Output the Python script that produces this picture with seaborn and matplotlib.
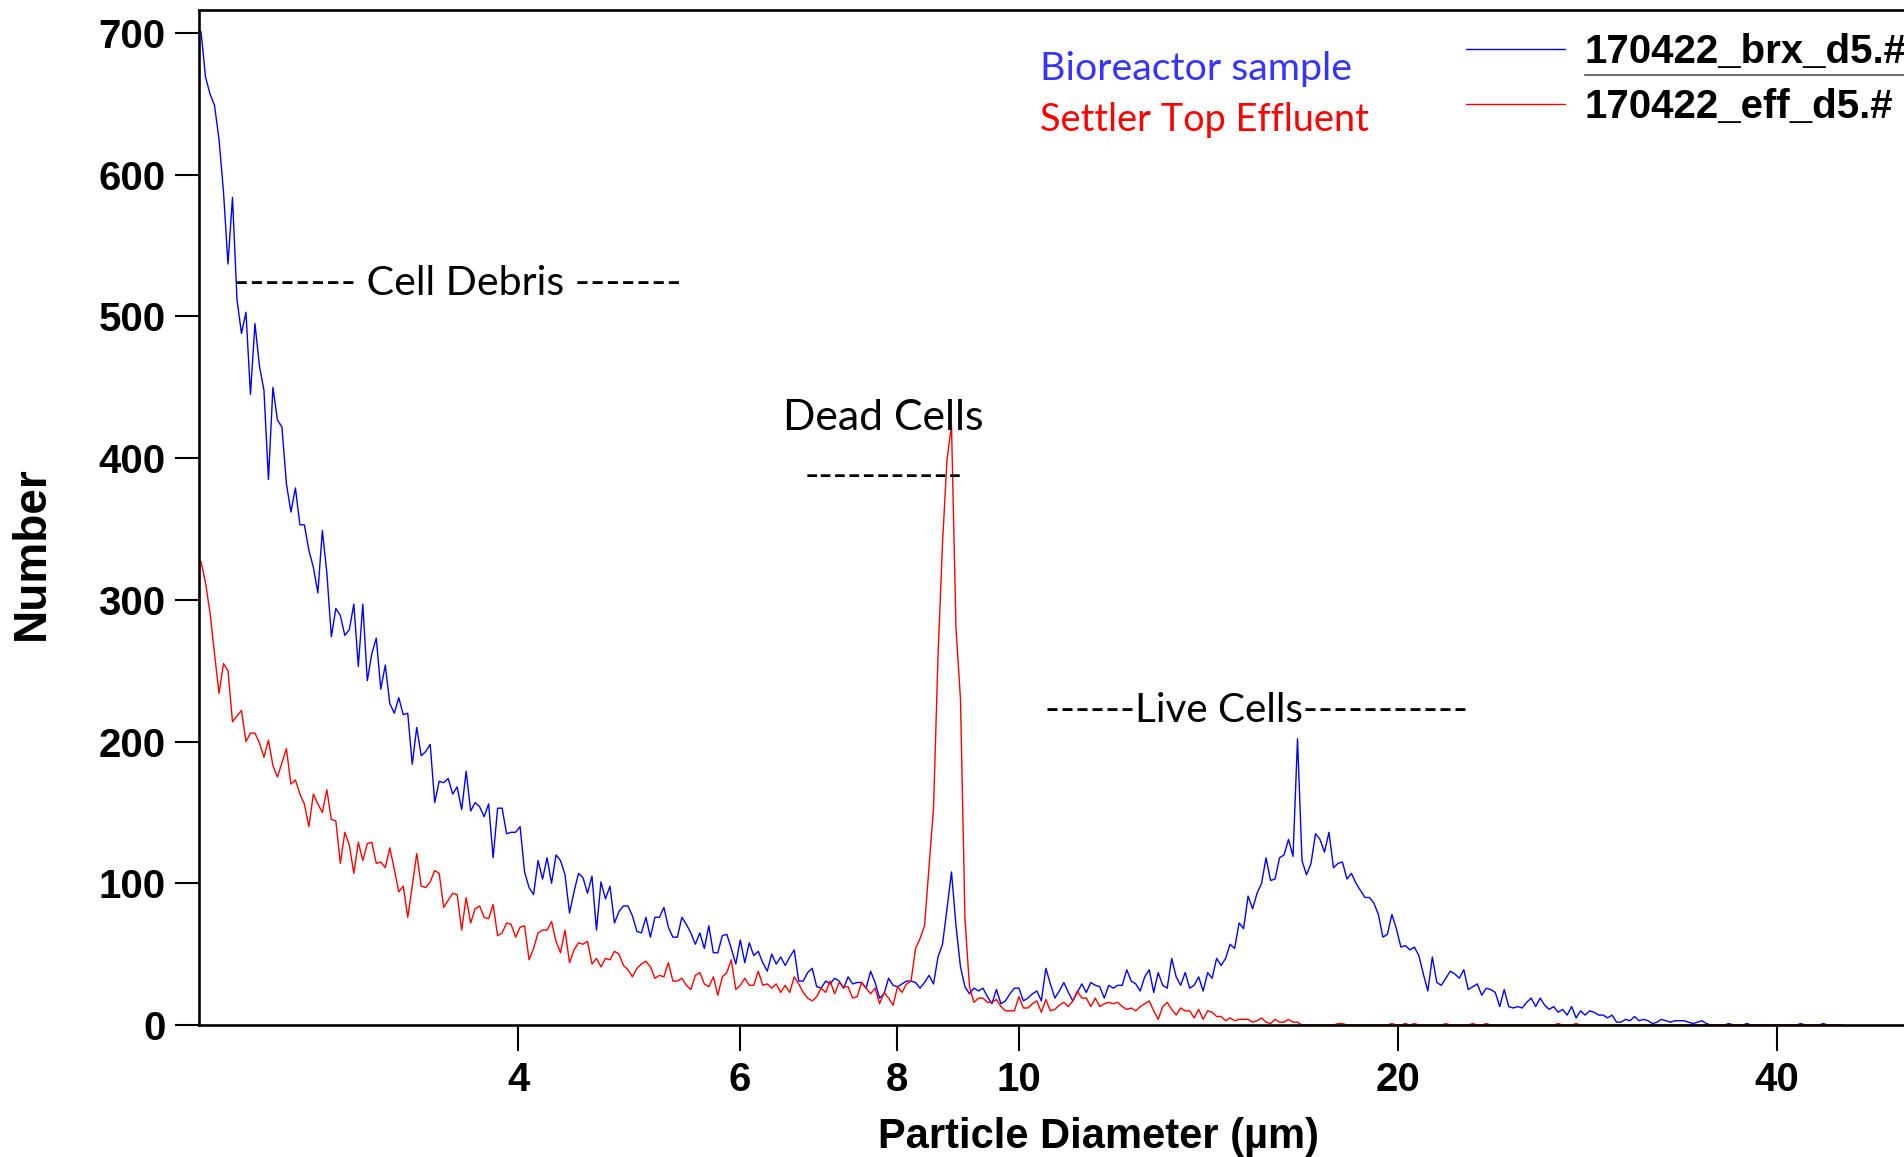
import numpy as np
import pandas as pd
import matplotlib
matplotlib.use("Agg")
import matplotlib.pyplot as plt
import seaborn as sns
from matplotlib.lines import Line2D

# ---------------- data ----------------
first_diameter_um = 2.238      # centre of the first size bin
bins_per_decade = 280          # instrument log-spaced bins

bioreactor_counts = [
    701, 669, 657, 649, 625, 588, 537, 584, 512, 488,
    503, 445, 495, 465, 448, 385, 450, 427, 422, 382,
    362, 379, 353, 353, 335, 323, 305, 349, 319, 274,
    294, 289, 275, 279, 297, 253, 297, 243, 262, 273,
    237, 254, 227, 220, 231, 219, 220, 184, 210, 190,
    193, 198, 157, 172, 171, 174, 163, 168, 152, 179,
    151, 157, 154, 147, 156, 118, 153, 153, 135, 136,
    136, 140, 108, 97, 92, 116, 103, 118, 100, 120,
    116, 106, 79, 94, 107, 104, 93, 105, 67, 101,
    89, 98, 72, 80, 84, 84, 77, 66, 65, 76,
    62, 76, 76, 83, 69, 62, 62, 76, 71, 65,
    57, 65, 54, 70, 51, 51, 63, 64, 54, 43,
    60, 44, 58, 49, 52, 44, 38, 50, 43, 48,
    42, 48, 53, 31, 31, 37, 40, 27, 26, 31,
    29, 33, 31, 26, 34, 29, 30, 30, 26, 38,
    30, 19, 22, 33, 28, 27, 29, 31, 31, 30,
    26, 30, 35, 29, 48, 57, 82, 108, 70, 41,
    27, 22, 26, 24, 26, 20, 15, 25, 15, 17,
    22, 26, 26, 17, 19, 22, 24, 17, 40, 29,
    19, 24, 30, 23, 17, 23, 29, 23, 30, 28,
    27, 19, 28, 26, 28, 28, 39, 31, 29, 24,
    34, 39, 23, 37, 28, 26, 47, 34, 28, 37,
    26, 28, 34, 24, 37, 33, 47, 42, 47, 57,
    54, 72, 68, 91, 82, 93, 100, 118, 102, 103,
    118, 120, 131, 119, 202, 116, 106, 114, 135, 131,
    122, 136, 111, 114, 115, 103, 107, 100, 95, 90,
    90, 86, 78, 62, 64, 78, 68, 55, 56, 53,
    55, 49, 36, 24, 48, 30, 28, 33, 38, 36,
    33, 39, 25, 27, 29, 21, 26, 25, 23, 13,
    25, 13, 12, 13, 12, 16, 19, 13, 19, 14,
    11, 13, 9, 11, 7, 13, 5, 10, 7, 10,
    9, 7, 7, 5, 7, 2, 2, 4, 3, 6,
    3, 4, 3, 1, 2, 4, 3, 2, 3, 3,
    3, 2, 1, 2, 3, 1, 0, 0, 0, 0,
    1, 0, 0, 0, 1, 0, 0, 0, 0, 0,
    0, 0, 0, 0, 0, 0, 1, 0, 0, 0,
    0, 1, 0, 0, 0, 0,
]

effluent_counts = [
    327, 312, 291, 262, 234, 255, 250, 214, 218, 222,
    200, 206, 206, 199, 189, 201, 183, 175, 185, 195,
    170, 173, 163, 156, 140, 163, 156, 150, 166, 145,
    144, 114, 136, 127, 107, 129, 116, 128, 129, 114,
    115, 111, 125, 110, 94, 98, 76, 98, 121, 98,
    97, 101, 109, 107, 83, 88, 93, 92, 67, 90,
    72, 82, 84, 76, 75, 85, 63, 65, 72, 71,
    62, 69, 70, 46, 54, 65, 67, 67, 73, 59,
    51, 67, 44, 53, 58, 57, 59, 43, 47, 41,
    47, 46, 52, 50, 42, 39, 34, 40, 43, 45,
    41, 33, 35, 34, 44, 31, 31, 33, 28, 25,
    35, 37, 29, 27, 34, 21, 34, 37, 46, 25,
    28, 33, 28, 28, 38, 28, 29, 26, 29, 23,
    28, 23, 34, 29, 23, 19, 17, 20, 26, 23,
    31, 22, 30, 27, 27, 19, 20, 30, 26, 22,
    26, 15, 23, 19, 14, 27, 23, 29, 31, 54,
    61, 70, 111, 153, 260, 340, 399, 423, 280, 230,
    75, 27, 16, 19, 19, 16, 16, 18, 13, 10,
    10, 10, 20, 12, 12, 15, 17, 9, 18, 10,
    11, 14, 16, 13, 17, 24, 19, 19, 13, 19,
    13, 15, 16, 15, 16, 13, 11, 12, 10, 13,
    15, 17, 10, 4, 13, 16, 11, 7, 12, 10,
    10, 5, 11, 4, 10, 9, 6, 6, 3, 5,
    3, 4, 4, 4, 2, 3, 5, 2, 1, 4,
    2, 2, 4, 2, 2, 0, 0, 0, 0, 0,
    0, 0, 0, 1, 1, 0, 0, 0, 0, 0,
    0, 0, 0, 0, 0, 1, 0, 0, 1, 0,
    1, 0, 0, 0, 0, 0, 0, 1, 0, 0,
    0, 0, 0, 1, 0, 0, 1, 0, 0, 0,
    0, 0, 0, 0, 0, 0, 0, 0, 0, 0,
    0, 0, 1, 0, 0, 0, 1, 0, 0, 0,
    0, 0, 0, 0, 0, 0, 0, 0, 0, 0,
    0, 0, 0, 0, 0, 0, 0, 0, 0, 0,
    0, 0, 0, 0, 0, 0, 0, 0, 0, 0,
    0, 0, 0, 0, 0, 0, 0, 0, 0, 0,
    0, 0, 0, 0, 0, 0, 0, 0, 0, 0,
    0, 0, 0, 0, 0, 0,
]

series_names = ["170422_brx_d5.#", "170422_eff_d5.#"]
series_colors = ["#0000ff", "#ff0000"]
x_ticks = [4, 6, 8, 10, 20, 40]
y_ticks = [0, 100, 200, 300, 400, 500, 600, 700]

assert len(bioreactor_counts) == len(effluent_counts)
n = len(bioreactor_counts)
diameters = first_diameter_um * 10 ** (np.arange(n) / bins_per_decade)

df = pd.DataFrame({
    "diameter": np.concatenate([diameters, diameters]),
    "count": np.array(bioreactor_counts + effluent_counts, dtype=float),
    "sample": [series_names[0]] * n + [series_names[1]] * n,
})

# ---------------- figure ----------------
sns.set_theme(style="white")
plt.rcParams["font.family"] = ["Liberation Sans", "DejaVu Sans"]
plt.rcParams["text.color"] = "black"

W, H = 1904, 1157
fig = plt.figure(figsize=(W / 100, H / 100), dpi=100)
ax = fig.add_axes([199 / W, 1 - 1025 / H, 1 - 199 / W, (1025 - 10) / H])
ax.set_xscale("log")

sns.lineplot(data=df, x="diameter", y="count", hue="sample",
             hue_order=series_names,
             palette=dict(zip(series_names, series_colors)),
             estimator=None, sort=False, linewidth=1.0,
             legend=False, ax=ax)

ax.set_xlim(2.2297, 50.5)
ax.set_ylim(0, 716.3)
ax.set_xticks(x_ticks, labels=[str(t) for t in x_ticks])
ax.set_yticks(y_ticks, labels=[str(t) for t in y_ticks])
ax.minorticks_off()

for side in ["left", "bottom", "top"]:
    ax.spines[side].set_color("black")
    ax.spines[side].set_linewidth(1.9)
ax.spines["right"].set_visible(False)

ax.tick_params(axis="x", direction="out", length=19, width=1.5,
               labelsize=29, pad=7, colors="black", bottom=True)
ax.tick_params(axis="y", direction="out", length=17, width=1.5,
               labelsize=29, pad=7, colors="black", left=True)
for lab in ax.get_xticklabels() + ax.get_yticklabels():
    lab.set_fontweight("bold")

ax.set_xlabel("Particle Diameter (µm)", fontsize=30, fontweight="bold",
              color="black")
ax.xaxis.label.set_va("baseline")
ax.xaxis.set_label_coords((1099 - 199) / (W - 199), (1025 - 1148) / 1015)
ax.set_ylabel("Number", fontsize=33, fontweight="bold", color="black")
ax.yaxis.label.set_va("center")
ax.yaxis.label.set_ha("center")
ax.yaxis.set_label_coords((32 - 199) / (W - 199), (1025 - 553) / 1015)

# ---------------- annotations ----------------
renderer = fig.canvas.get_renderer()
ann_font = ["Lato", "DejaVu Sans"]


def fit_text(x_px, base_px, s, width_px, color="black"):
    t = fig.text(x_px / W, 1 - base_px / H, s, ha="left", va="baseline",
                 fontsize=30, color=color, family=ann_font)
    w = t.get_window_extent(renderer).width
    t.set_fontsize(30 * width_px / w)
    return t


fit_text(234, 295, "-------- Cell Debris -------", 448)
fit_text(783, 430, "Dead Cells", 201)
fit_text(805, 487, "-----------", 159)
fit_text(1045, 722, "------Live Cells-----------", 425)
fit_text(1040, 80, "Bioreactor sample", 313, color="#3535ff")
fit_text(1040, 131, "Settler Top Effluent", 328, color="#ff0000")

# ---------------- legend ----------------
handles = [Line2D([], [], color=c, lw=1.0) for c in series_colors]
leg = fig.legend(handles, series_names, loc="upper left",
                 bbox_to_anchor=(1466 / W, 1 - 33 / H),
                 frameon=False, borderpad=0, borderaxespad=0,
                 handlelength=2.45, handletextpad=0.5, labelspacing=0.42,
                 labelcolor="black",
                 prop={"family": "Liberation Sans", "weight": "bold",
                       "size": 29})
fig.add_artist(Line2D([1585 / W, 1.0], [1 - 75 / H, 1 - 75 / H],
                      transform=fig.transFigure, color="#707070", lw=1.5))

fig.savefig("out.png", dpi=100)
